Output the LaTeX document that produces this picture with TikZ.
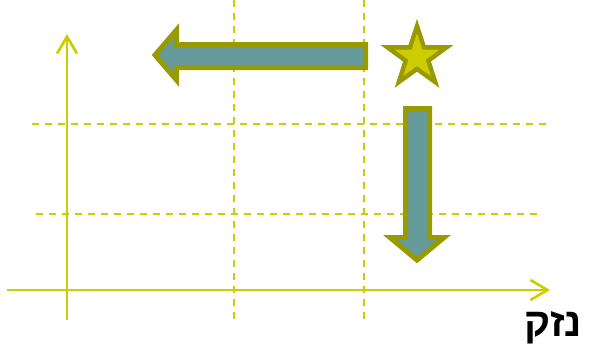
\documentclass[tikz,border=0pt]{standalone}
\usepackage{fontspec}
\newfontfamily\hebfont[Script=Hebrew]{Liberation Sans}
\TeXXeTstate=1
\usetikzlibrary{
    arrows.meta,
    shapes.geometric
}
\definecolor{axisyellow}{RGB}{204,204,0}
\definecolor{arrowolive}{RGB}{153,153,0}
\definecolor{arrowteal}{RGB}{102,153,153}

\begin{document}
\begin{tikzpicture}[
    x=0.5pt,
    y=-0.5pt,
    line cap=butt,
    line join=miter,
    axis/.style={-{Straight Barb[length=8.5pt, width=10pt]}, axisyellow, line width=1.3pt},
    grid line/.style={axisyellow, line width=1pt, dash pattern=on 3.5pt off 3pt},
    block arrow/.style={draw=arrowolive, fill=arrowteal, line width=2.5pt},
    every node/.style={inner sep=0pt}
]

% -------------------------------------------------
% Frame
% -------------------------------------------------

\useasboundingbox (0,0) rectangle (589,350);

% -------------------------------------------------
% Grid lines
% -------------------------------------------------

\draw[grid line] (234,0) -- (234,320);
\draw[grid line] (364,0) -- (364,320);
\draw[grid line] (32,124) -- (551,124);
\draw[grid line] (36,214) -- (541,214);

% -------------------------------------------------
% Axes
% -------------------------------------------------

\coordinate (yfoot) at (67,320);
\coordinate (ytop) at (67,34);
\coordinate (xfoot) at (7,290);
\coordinate (xend) at (550,290);

\draw[axis] (yfoot) -- (ytop);
\draw[axis] (xfoot) -- (xend);

% -------------------------------------------------
% Block arrows
% -------------------------------------------------

% Leftward arrow
\draw[block arrow]
    (155,55) -- (176.5,30) -- (176.5,44.5) -- (365.5,44.5)
    -- (365.5,67.5) -- (176.5,67.5) -- (176.5,80) -- cycle;

% Downward arrow
\draw[block arrow]
    (405.5,108.5) -- (429.5,108.5) -- (429.5,237.5) -- (444,237.5)
    -- (417,260) -- (390,237.5) -- (405.5,237.5) -- cycle;

% Star
\node[star, star points=5, star point ratio=2.6, minimum size=31pt,
      draw=arrowolive, fill=axisyellow, line width=2.2pt] (star) at (417,57) {};

% -------------------------------------------------
% Label
% -------------------------------------------------

\node[font=\hebfont\bfseries\fontsize{20}{20}\selectfont] (damage) at (553,328) {\beginR נזק\endR};

\end{tikzpicture}
\end{document}
